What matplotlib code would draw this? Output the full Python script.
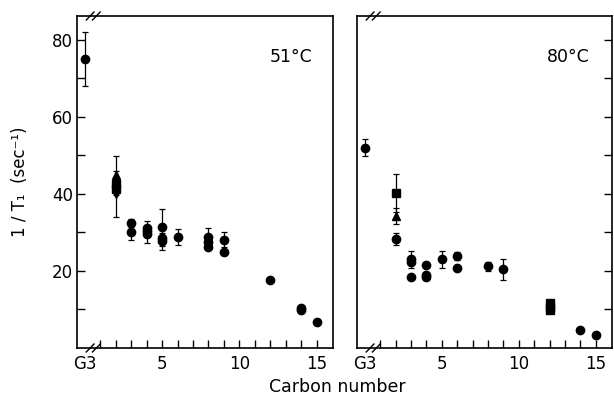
import matplotlib
matplotlib.use('Agg')
import matplotlib.pyplot as plt
import matplotlib.transforms as mtransforms

# 1/T1 relaxation rate vs carbon number, two temperatures
# G3 is drawn at x = 0 behind the axis break

# 51 C panel
c51_x = [0, 3, 3, 4, 4, 4, 5, 5, 5, 6, 8, 8, 8, 9, 9, 12, 14, 14, 15]
c51_y = [75, 32.4, 30, 31.1, 30.3, 29.5, 31.3, 28.6, 27.7, 28.8, 28.8, 27.4, 26.3, 28.1, 24.9, 17.7, 10.5, 9.9, 6.8]
c51_err = [7, 1.1, 2, 2, 0, 2.3, 4.7, 0, 2.2, 2, 2.3, 0, 0, 1.9, 0, 0, 0, 0, 0]
s51_x = [2, 2]
s51_y = [42.5, 41.3]
t51_x = [2]
t51_y = [44.8]
t51_err = [5]
v51_x = [2]
v51_y = [40]
v51_err = [6]

# 80 C panel
c80_x = [0, 2, 3, 3, 3, 4, 4, 4, 5, 6, 6, 8, 9, 14, 15]
c80_y = [52, 28.3, 23, 22.4, 18.4, 21.6, 19, 18.4, 23.1, 23.9, 20.7, 21.2, 20.4, 4.8, 3.4]
c80_err = [2.2, 1.6, 2.3, 0, 0, 0, 0, 0, 2.2, 1, 0, 1.2, 2.8, 0, 0]
s80_x = [2, 12, 12, 12]
s80_y = [40.2, 11.6, 10.6, 9.8]
s80_err = [5, 0, 0, 0]
t80_x = [2]
t80_y = [34.3]
t80_err = [2]

xtick_pos = [0, 5, 10, 15]
xtick_lab = ['G3', '5', '10', '15']

plt.rcParams['font.family'] = ['DejaVu Sans']
plt.rcParams['font.size'] = 12

fig = plt.figure(figsize=(6.14, 3.97), dpi=100)
ax1 = fig.add_axes([77 / 614, 1 - 348 / 397, 256 / 614, 332 / 397])
ax2 = fig.add_axes([357 / 614, 1 - 348 / 397, 255 / 614, 332 / 397])

eb = dict(fmt='none', ecolor='black', elinewidth=0.9, capsize=2.5, capthick=0.9)


def points(ax, x, y, err, marker, size):
    if err is not None:
        ax.errorbar(x, y, yerr=err, **eb)
    ax.plot(x, y, linestyle='none', marker=marker, color='black', markersize=size)


points(ax1, c51_x, c51_y, c51_err, 'o', 6)
points(ax1, v51_x, v51_y, v51_err, 'v', 6)
points(ax1, t51_x, t51_y, t51_err, '^', 6)
points(ax1, s51_x, s51_y, None, 's', 6)

points(ax2, c80_x, c80_y, c80_err, 'o', 6)
points(ax2, t80_x, t80_y, t80_err, '^', 6)
points(ax2, s80_x, s80_y, s80_err, 's', 6)

for ax in (ax1, ax2):
    ax.set_xlim(-0.5, 16.05)
    ax.set_ylim(0, 86.2)
    ax.set_xticks(xtick_pos)
    ax.set_xticklabels(xtick_lab)
    ax.set_xticks(range(1, 16), minor=True)
    ax.xaxis.get_major_ticks()[0].tick1line.set_visible(False)
    ax.tick_params(axis='x', which='both', direction='in', length=6, width=1, top=False, pad=5)
    for sp in ax.spines.values():
        sp.set_linewidth(1.2)
    # axis break marks on top and bottom spines
    trans = mtransforms.blended_transform_factory(ax.transData, ax.transAxes)
    for yb in (0, 1):
        for dx in (0.35, 0.75):
            ax.plot([dx - 0.25, dx + 0.25], [yb - 0.012, yb + 0.012], color='black',
                    lw=1, transform=trans, clip_on=False)

ax1.set_yticks([20, 40, 60, 80])
ax1.set_yticks([10, 30, 50, 70], minor=True)
ax1.tick_params(axis='y', which='both', direction='in', length=6, width=1, pad=3)
ax1.set_ylabel('1 / T\u2081  (sec\u207b\u00b9)', labelpad=16)

ax2.set_yticks([20, 40, 60, 80])
ax2.set_yticks([10, 30, 50, 70], minor=True)
ax2.tick_params(axis='y', which='both', direction='in', length=6, width=1,
                left=False, right=True, labelleft=False)

ax1.text(0.918, 0.876, '51\u00b0C', transform=ax1.transAxes, ha='right', va='center', fontsize=12.5)
ax2.text(0.914, 0.876, '80\u00b0C', transform=ax2.transAxes, ha='right', va='center', fontsize=12.5)

fig.text(0.549, 0.025, 'Carbon number', ha='center', va='center', fontsize=12.5)

fig.savefig('out.png', dpi=100)
